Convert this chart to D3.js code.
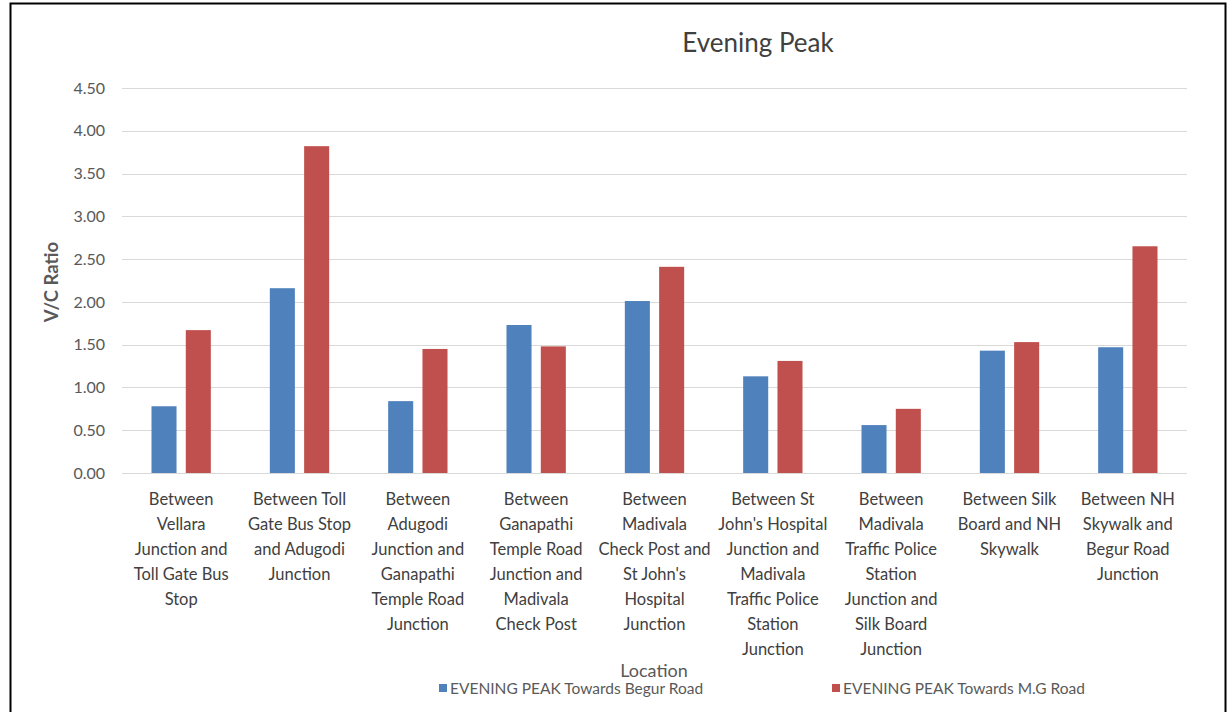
<!DOCTYPE html>
<html>
<head>
<meta charset="utf-8">
<script src="https://cdn.jsdelivr.net/npm/d3@7/dist/d3.min.js"></script>
<style>
  html, body { margin: 0; padding: 0; background: #fff; }
  svg { display: block; font-family: Lato, "Liberation Sans", sans-serif; }
</style>
</head>
<body>
<svg id="chart" width="1230" height="712"></svg>
<script>
// Location labels, already broken into lines as they appear under the axis
const categories = [
  ["Between", "Vellara", "Junction and", "Toll Gate Bus", "Stop"],
  ["Between Toll", "Gate Bus Stop", "and Adugodi", "Junction"],
  ["Between", "Adugodi", "Junction and", "Ganapathi", "Temple Road", "Junction"],
  ["Between", "Ganapathi", "Temple Road", "Junction and", "Madivala", "Check Post"],
  ["Between", "Madivala", "Check Post and", "St John's", "Hospital", "Junction"],
  ["Between St", "John's Hospital", "Junction and", "Madivala", "Traffic Police", "Station", "Junction"],
  ["Between", "Madivala", "Traffic Police", "Station", "Junction and", "Silk Board", "Junction"],
  ["Between Silk", "Board and NH", "Skywalk"],
  ["Between NH", "Skywalk and", "Begur Road", "Junction"]
];

const seriesNames = ["EVENING PEAK Towards Begur Road", "EVENING PEAK Towards M.G Road"];
const towardsBegur = [0.78, 2.16, 0.84, 1.73, 2.01, 1.13, 0.56, 1.43, 1.47];
const towardsMG    = [1.67, 3.82, 1.45, 1.48, 2.41, 1.31, 0.75, 1.53, 2.65];
const yTicks = [0, 0.5, 1, 1.5, 2, 2.5, 3, 3.5, 4, 4.5];
const colors = ["#4f81bd", "#c0504d"];

const svg = d3.select("#chart");
const plot = { left: 122, right: 1187, top: 88, bottom: 473 };

// outer frame
svg.append("rect")
  .attr("x", 10.5).attr("y", 3.5)
  .attr("width", 1215).attr("height", 740)
  .attr("fill", "none").attr("stroke", "#000").attr("stroke-width", 2);

const x = d3.scaleBand()
  .domain(d3.range(categories.length))
  .range([plot.left, plot.right])
  .paddingInner(0).paddingOuter(0);

const xInner = d3.scaleBand()
  .domain([0, 1])
  .range([0, x.bandwidth()])
  .paddingInner(0.27).paddingOuter(0.86);

const y = d3.scaleLinear().domain([0, 4.5]).range([plot.bottom, plot.top]);

// gridlines
svg.append("g")
  .selectAll("line").data(yTicks).join("line")
  .attr("x1", plot.left).attr("x2", plot.right)
  .attr("y1", d => Math.round(y(d)) + 0.5).attr("y2", d => Math.round(y(d)) + 0.5)
  .attr("stroke", "#d9d9d9").attr("stroke-width", 1);

// y axis labels
const yAxis = d3.axisLeft(y).tickValues(yTicks).tickFormat(d3.format(".2f")).tickSize(0).tickPadding(0);
const yg = svg.append("g").attr("transform", `translate(${105},0)`).call(yAxis);
yg.select(".domain").remove();
yg.selectAll("text").attr("fill", "#595959").style("font-size", "16px")
  .style("font-family", "Lato, 'Liberation Sans', sans-serif");

// bars
const series = [towardsBegur, towardsMG];
series.forEach((vals, si) => {
  svg.append("g").selectAll("rect").data(vals).join("rect")
    .attr("x", (d, i) => x(i) + xInner(si))
    .attr("width", xInner.bandwidth())
    .attr("y", d => y(d))
    .attr("height", d => y(0) - y(d))
    .attr("fill", colors[si]);
});

// category labels
const xg = svg.append("g");
categories.forEach((lines, i) => {
  const cx = x(i) + x.bandwidth() / 2;
  const t = xg.append("text")
    .attr("x", cx)
    .attr("y", 505)
    .attr("text-anchor", "middle")
    .attr("fill", "#404040")
    .style("font-size", "16.5px");
  lines.forEach((ln, k) => {
    t.append("tspan").attr("x", cx).attr("y", 505 + k * 25).text(ln);
  });
});

// title
svg.append("text")
  .attr("x", 758).attr("y", 52)
  .attr("text-anchor", "middle")
  .attr("fill", "#404040")
  .style("font-size", "26px")
  .text("Evening Peak");

// y axis title
svg.append("text")
  .attr("transform", "translate(58,282) rotate(-90)")
  .attr("text-anchor", "middle")
  .attr("fill", "#595959")
  .style("font-size", "18.5px")
  .style("font-weight", "bold")
  .text("V/C Ratio");

// x axis title
svg.append("text")
  .attr("x", 654).attr("y", 677)
  .attr("text-anchor", "middle")
  .attr("fill", "#595959")
  .style("font-size", "18px")
  .text("Location");

// legend
const legendPos = [439, 832];
seriesNames.forEach((name, i) => {
  svg.append("rect")
    .attr("x", legendPos[i]).attr("y", 684)
    .attr("width", 8).attr("height", 8)
    .attr("fill", colors[i]);
  svg.append("text")
    .attr("x", legendPos[i] + 11).attr("y", 694)
    .attr("fill", "#595959")
    .style("font-size", "15.5px")
    .text(name);
});
</script>
</body>
</html>
